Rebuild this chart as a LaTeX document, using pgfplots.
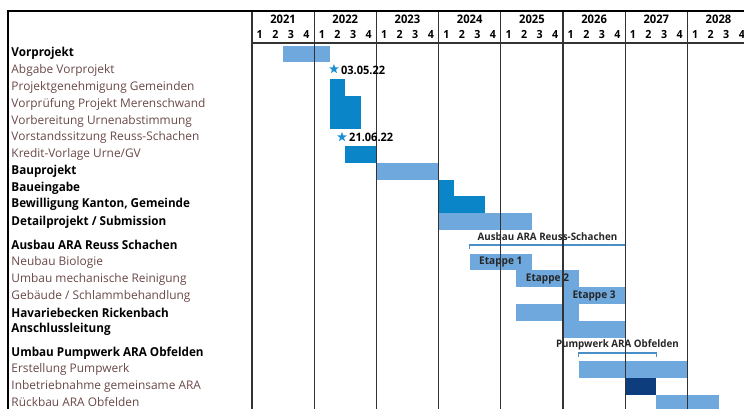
\documentclass[border=0pt]{standalone}
\usepackage{pgfplots}
\pgfplotsset{compat=1.18}
\usepackage{fontspec}
\setmainfont{Open Sans}[BoldFeatures={FakeStretch=0.95}]
\definecolor{lb}{HTML}{6EA8DC}
\definecolor{db}{HTML}{0A86C8}
\definecolor{nv}{HTML}{0D3D7D}
\definecolor{st}{HTML}{1A90D0}
\definecolor{sub}{HTML}{6A4848}
\definecolor{gl}{HTML}{333333}
\definecolor{br}{HTML}{4A90C8}
\pgfdeclareplotmark{fstar}{%
 \pgfpathmoveto{\pgfpointpolar{90}{\pgfplotmarksize}}%
 \pgfpathlineto{\pgfpointpolar{126}{0.42\pgfplotmarksize}}%
 \pgfpathlineto{\pgfpointpolar{162}{\pgfplotmarksize}}%
 \pgfpathlineto{\pgfpointpolar{198}{0.42\pgfplotmarksize}}%
 \pgfpathlineto{\pgfpointpolar{234}{\pgfplotmarksize}}%
 \pgfpathlineto{\pgfpointpolar{270}{0.42\pgfplotmarksize}}%
 \pgfpathlineto{\pgfpointpolar{306}{\pgfplotmarksize}}%
 \pgfpathlineto{\pgfpointpolar{342}{0.42\pgfplotmarksize}}%
 \pgfpathlineto{\pgfpointpolar{18}{\pgfplotmarksize}}%
 \pgfpathlineto{\pgfpointpolar{54}{0.42\pgfplotmarksize}}%
 \pgfpathclose\pgfusepathqfill}
\newcommand{\gbar}[5]{\addplot[fill=#5, draw=none] coordinates {(#1,#3) (#2,#3) (#2,#4) (#1,#4)} -- cycle;}
\newcommand{\rowlab}[2]{\node[anchor=west, inner sep=0pt, font=\fontsize{12.3}{13}\selectfont\bfseries] at (axis cs:2017.13,#1) {#2};}
\newcommand{\sublab}[2]{\node[anchor=west, inner sep=0pt, text=sub, font=\fontsize{11.9}{13}\selectfont] at (axis cs:2017.13,#1) {#2};}
\begin{document}
\begin{tikzpicture}
\begin{axis}[scale only axis, width=744pt, height=408pt,
  xmin=2016.949, xmax=2028.910, ymin=0, ymax=408, y dir=reverse,
  axis lines=none, clip=true]
% bars
\gbar{2021.5}{2022.25}{45.6}{62.4}{lb}
\gbar{2022.25}{2022.5}{79.1}{95.9}{db}
\gbar{2022.25}{2022.75}{95.9}{129.4}{db}
\gbar{2022.5}{2023.0}{146.1}{162.9}{db}
\gbar{2023.0}{2024.0}{162.9}{179.6}{lb}
\gbar{2024.0}{2024.25}{179.6}{196.4}{db}
\gbar{2024.0}{2024.75}{196.4}{213.1}{db}
\gbar{2024.0}{2025.5}{213.1}{229.9}{lb}
\gbar{2024.5}{2025.5}{253.6}{270.4}{lb}
\gbar{2025.25}{2026.25}{270.4}{287.2}{lb}
\gbar{2026.0}{2027.0}{287.2}{304.0}{lb}
\gbar{2025.25}{2026.25}{304.0}{320.8}{lb}
\gbar{2026.0}{2027.0}{320.8}{337.6}{lb}
\gbar{2026.25}{2028.0}{361.2}{378.0}{lb}
\gbar{2027.0}{2027.5}{378.0}{394.8}{nv}
\gbar{2027.5}{2028.5}{394.8}{411.6}{lb}
% milestones
\addplot[only marks, mark=fstar, mark size=5pt, color=st] coordinates {(2022.318,69) (2022.447,137)};
% brackets
\addplot[br, line width=1.3pt] coordinates {(2024.5,249) (2024.5,245) (2027.0,245) (2027.0,249)};
\addplot[br, line width=1.3pt] coordinates {(2026.25,357) (2026.25,353) (2027.5,353) (2027.5,357)};
% grid and frame
\addplot[gl, line width=1.2pt] coordinates {(2021,11) (2021,420)};
\addplot[gl, line width=1.2pt] coordinates {(2022,11) (2022,420)};
\addplot[gl, line width=1.2pt] coordinates {(2023,11) (2023,420)};
\addplot[gl, line width=1.2pt] coordinates {(2024,11) (2024,420)};
\addplot[gl, line width=1.2pt] coordinates {(2025,11) (2025,420)};
\addplot[gl, line width=1.2pt] coordinates {(2026,11) (2026,420)};
\addplot[gl, line width=1.2pt] coordinates {(2027,11) (2027,420)};
\addplot[gl, line width=1.2pt] coordinates {(2028,11) (2028,420)};
\addplot[gl, line width=1.3pt] coordinates {(2021,43) (2029,43)};
\addplot[black, line width=2pt] coordinates {(2017.078,420) (2017.078,11) (2029,11)};
% header
\foreach \y in {2021,...,2028}{
  \edef\tmp{\noexpand\node[font=\noexpand\fontsize{11.8}{13}\noexpand\selectfont\noexpand\bfseries] at (axis cs:\y.5,19) {\y};}\tmp
  \edef\tmp{\noexpand\node[font=\noexpand\fontsize{11.2}{12}\noexpand\selectfont\noexpand\bfseries] at (axis cs:\y.125,34) {1};}\tmp
  \edef\tmp{\noexpand\node[font=\noexpand\fontsize{11.2}{12}\noexpand\selectfont\noexpand\bfseries] at (axis cs:\y.375,34) {2};}\tmp
  \edef\tmp{\noexpand\node[font=\noexpand\fontsize{11.2}{12}\noexpand\selectfont\noexpand\bfseries] at (axis cs:\y.625,34) {3};}\tmp
  \edef\tmp{\noexpand\node[font=\noexpand\fontsize{11.2}{12}\noexpand\selectfont\noexpand\bfseries] at (axis cs:\y.875,34) {4};}\tmp
}
% milestone labels
\node[anchor=west, inner sep=0pt, font=\fontsize{11.6}{13}\selectfont\bfseries] at (axis cs:2022.43,70) {03.05.22};
\node[anchor=west, inner sep=0pt, font=\fontsize{11.6}{13}\selectfont\bfseries] at (axis cs:2022.56,137.5) {21.06.22};
% bracket labels
\node[font=\fontsize{10.3}{12}\selectfont\bfseries, text=black!85] at (axis cs:2025.75,237) {Ausbau ARA Reuss-Schachen};
\node[font=\fontsize{10.3}{12}\selectfont\bfseries, text=black!85] at (axis cs:2026.875,345) {Pumpwerk ARA Obfelden};
\node[font=\fontsize{10.6}{12}\selectfont\bfseries, text=black!85] at (axis cs:2025.0,262) {Etappe 1};
\node[font=\fontsize{10.6}{12}\selectfont\bfseries, text=black!85] at (axis cs:2025.75,278.8) {Etappe 2};
\node[font=\fontsize{10.6}{12}\selectfont\bfseries, text=black!85] at (axis cs:2026.5,295.6) {Etappe 3};
% row labels
\rowlab{53}{Vorprojekt}
\sublab{70}{Abgabe Vorprojekt}
\sublab{87}{Projektgenehmigung Gemeinden}
\sublab{104}{Vorprüfung Projekt Merenschwand}
\sublab{121}{Vorbereitung Urnenabstimmung}
\sublab{137}{Vorstandssitzung Reuss-Schachen}
\sublab{154}{Kredit-Vorlage Urne/GV}
\rowlab{171.5}{Bauprojekt}
\rowlab{188}{Baueingabe}
\rowlab{204.5}{Bewilligung Kanton, Gemeinde}
\rowlab{222}{Detailprojekt / Submission}
\rowlab{245}{Ausbau ARA Reuss Schachen}
\sublab{262}{Neubau Biologie}
\sublab{279}{Umbau mechanische Reinigung}
\sublab{296}{Gebäude / Schlammbehandlung}
\rowlab{312.5}{Havariebecken Rickenbach}
\rowlab{329}{Anschlussleitung}
\rowlab{353}{Umbau Pumpwerk ARA Obfelden}
\sublab{369.5}{Erstellung Pumpwerk}
\sublab{386}{Inbetriebnahme gemeinsame ARA}
\sublab{401.5}{Rückbau ARA Obfelden}
\end{axis}
\pgfresetboundingbox
\path[use as bounding box] (current axis.south west) rectangle (current axis.north east);
\end{tikzpicture}
\end{document}
